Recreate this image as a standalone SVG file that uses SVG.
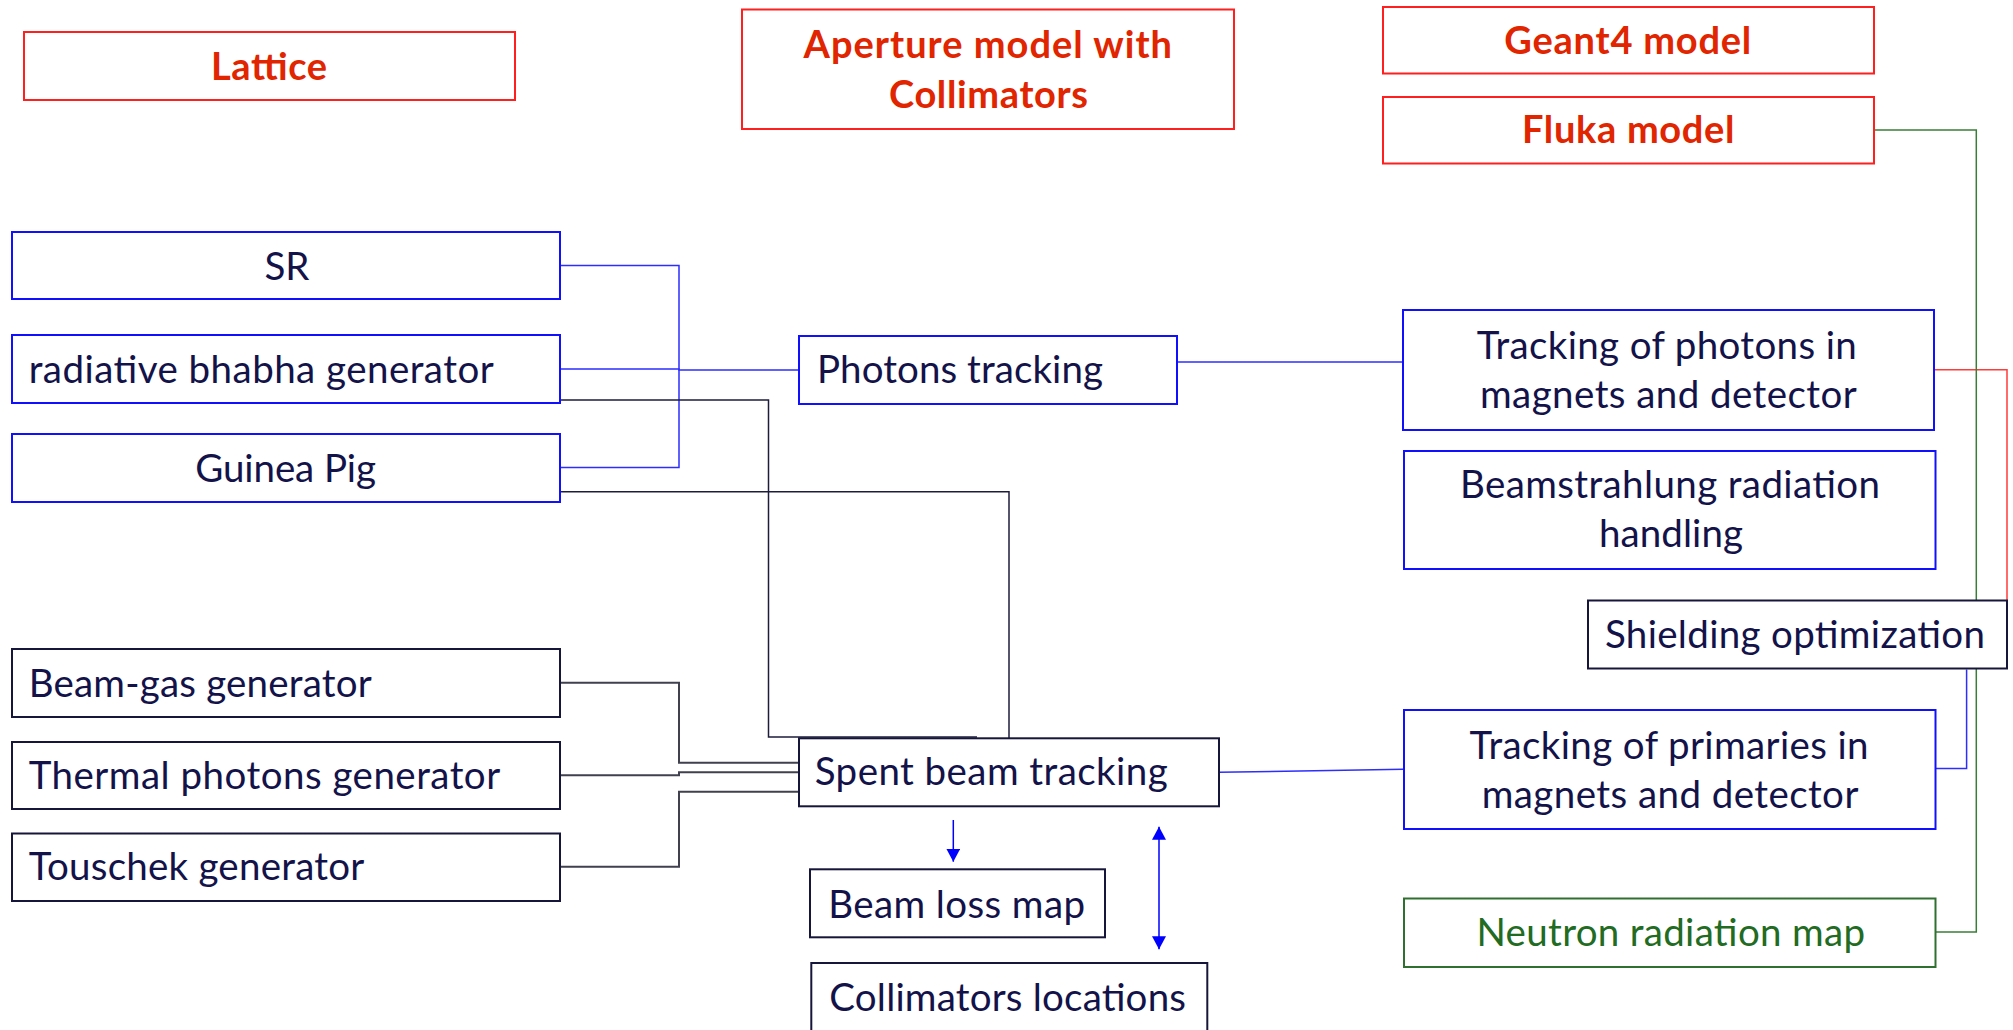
<svg xmlns="http://www.w3.org/2000/svg" width="2013" height="1030" viewBox="0 0 2013 1030">
<style>
  .box { fill: #ffffff; stroke-width: 2; }
  .red { stroke: #ff1f1f; }
  .blue { stroke: #1010ff; }
  .dark { stroke: #16163a; }
  .green { stroke: #2f6f2f; }
  .t { font-family: Lato, "Liberation Sans", sans-serif; font-size: 38.5px; fill: #13134a; }
  .h { font-family: Lato, "Liberation Sans", sans-serif; font-size: 38px; font-weight: bold; fill: #e02500; }
  .g { fill: #226b22; }
  .c { fill: none; }
  .cb { stroke: #2d2dff; stroke-width: 1.5; }
  .cn { stroke: #1c1c3c; stroke-width: 1.5; }
  .cg { stroke: #40404e; stroke-width: 2; }
  .cr { stroke: #ff3b3b; stroke-width: 1.5; }
  .cgr { stroke: #3a7d3a; stroke-width: 1.5; }
  .ca { stroke: #0000ff; stroke-width: 1.5; }
</style>
<defs>
  <marker id="ah" viewBox="0 0 13 14" refX="13" refY="7" markerWidth="13" markerHeight="14" markerUnits="userSpaceOnUse" orient="auto-start-reverse">
    <path d="M0,0 L13,7 L0,14 z" fill="#0000ff"/>
  </marker>
</defs>
<rect width="2013" height="1030" fill="#ffffff"/>

<g id="connectors">
  <path class="c cb" d="M560,265.5 H679 V467.5 H560"/>
  <path class="c cb" d="M560,369 H679 V370 H799" stroke-width="2"/>
  <path class="c cb" d="M1177,362 H1403"/>
  <path class="c cb" d="M1219,772.3 L1403.6,769.3"/>
  <path class="c cb" d="M1935.5,768.6 H1966.6 V669.5"/>
  <path class="c cn" d="M560,400 H768.5 V737 H977"/>
  <path class="c cn" d="M560,491.7 H1009 V738.3"/>
  <path class="c cg" d="M560,682.7 H679 V762.7 H799"/>
  <path class="c cg" d="M560,775.3 H679 V772.3 H799"/>
  <path class="c cg" d="M560,866.7 H679 V791.7 H799"/>
  <path class="c cr" d="M1934.3,369.8 H2007 V600"/>
  <path class="c cgr" d="M1874,130 H1976.3 V932 H1935.5"/>
  <path class="c ca" d="M953.3,820 V861.7" marker-end="url(#ah)"/>
  <path class="c ca" d="M1159,826.7 V949.3" marker-start="url(#ah)" marker-end="url(#ah)"/>
</g>

<g id="lattice">
  <rect class="box red" x="24" y="32" width="491" height="68"/>
  <text class="h" x="211" y="80" textLength="116">Lattice</text>
</g>
<g id="aperture">
  <rect class="box red" x="742" y="9.5" width="492" height="119.5"/>
  <text class="h" x="803.6" y="57.7" textLength="368.4">Aperture model with</text>
  <text class="h" x="889" y="107.7" textLength="199">Collimators</text>
</g>
<g id="geant4">
  <rect class="box red" x="1383" y="7" width="491" height="66.5"/>
  <text class="h" x="1504.3" y="54" textLength="247">Geant4 model</text>
</g>
<g id="fluka">
  <rect class="box red" x="1383" y="97" width="491" height="66.5"/>
  <text class="h" x="1522" y="143.2" textLength="212.5">Fluka model</text>
</g>

<g id="sr">
  <rect class="box blue" x="12" y="232" width="548" height="67"/>
  <text class="t" x="287" y="280" text-anchor="middle">SR</text>
</g>
<g id="radiative">
  <rect class="box blue" x="12" y="335" width="548" height="68"/>
  <text class="t" x="28.7" y="382.5" textLength="465">radiative bhabha generator</text>
</g>
<g id="guinea">
  <rect class="box blue" x="12" y="434" width="548" height="68"/>
  <text class="t" x="195.3" y="481.7" textLength="180.7">Guinea Pig</text>
</g>
<g id="photons">
  <rect class="box blue" x="799" y="336" width="378" height="68"/>
  <text class="t" x="817" y="382.5" textLength="286">Photons tracking</text>
</g>
<g id="trackphotons">
  <rect class="box blue" x="1403" y="310" width="531" height="120"/>
  <text class="t" x="1476.7" y="359" textLength="380">Tracking of photons in</text>
  <text class="t" x="1480" y="408" textLength="376.7">magnets and detector</text>
</g>
<g id="beamstrahlung">
  <rect class="box blue" x="1404" y="451" width="531.5" height="118"/>
  <text class="t" x="1460" y="498.3" textLength="420">Beamstrahlung radiation</text>
  <text class="t" x="1599" y="546.7" textLength="144">handling</text>
</g>
<g id="shielding">
  <rect class="box dark" x="1588" y="600.5" width="419" height="68"/>
  <text class="t" x="1605" y="648" textLength="380">Shielding optimization</text>
</g>
<g id="trackprimaries">
  <rect class="box blue" x="1404" y="710" width="531.5" height="119"/>
  <text class="t" x="1469.6" y="759" textLength="399">Tracking of primaries in</text>
  <text class="t" x="1481.7" y="808" textLength="376.7">magnets and detector</text>
</g>
<g id="neutron">
  <rect class="box green" x="1404" y="898.5" width="531.5" height="68.5"/>
  <text class="t g" x="1476.5" y="946" textLength="388.5">Neutron radiation map</text>
</g>
<g id="beamgas">
  <rect class="box dark" x="12" y="649" width="548" height="68"/>
  <text class="t" x="28.7" y="696.7" textLength="343">Beam-gas generator</text>
</g>
<g id="thermal">
  <rect class="box dark" x="12" y="742" width="548" height="67"/>
  <text class="t" x="28.7" y="789.3" textLength="471.5">Thermal photons generator</text>
</g>
<g id="touschek">
  <rect class="box dark" x="12" y="833.5" width="548" height="67.5"/>
  <text class="t" x="28.7" y="880" textLength="335.6">Touschek generator</text>
</g>
<g id="spent">
  <rect class="box dark" x="799" y="738.3" width="420" height="68"/>
  <text class="t" x="814.7" y="785" textLength="353">Spent beam tracking</text>
</g>
<g id="beamloss">
  <rect class="box dark" x="810" y="869.3" width="295" height="68"/>
  <text class="t" x="828.3" y="918" textLength="256.7">Beam loss map</text>
</g>
<g id="collimators">
  <rect class="box dark" x="811.3" y="963" width="396" height="80"/>
  <text class="t" x="829.3" y="1011" textLength="356.7">Collimators locations</text>
</g>
</svg>
